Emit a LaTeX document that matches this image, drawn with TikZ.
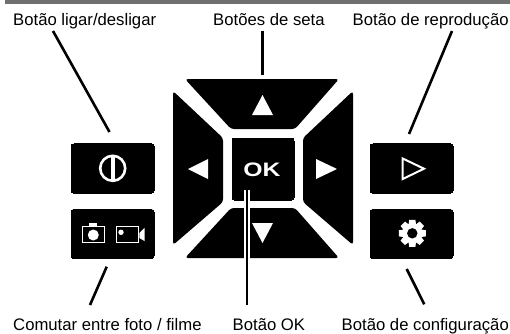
\documentclass[tikz,border=0pt]{standalone}
\usepackage{fontspec}
\setmainfont{Liberation Sans}
\tikzset{
  x=1pt,y=-1pt,
  lbl/.style={anchor=base west,inner sep=0pt,font=\fontsize{16.7}{20}\selectfont},
  btn/.style={fill=black,rounded corners=3pt},
  keybtn/.style={draw=black,fill=black,line width=0pt,rounded corners=3pt,inner sep=0pt,minimum width=83pt,minimum height=49.5pt},
  lead/.style={draw=black,line width=2.6pt},
  oklead/.style={draw=black,line width=2.2pt},
  halo/.style={draw=white,line width=6pt},
  wfill/.style={fill=white,draw=none},
  wline/.style={draw=white,fill=none},
}
\begin{document}
\begin{tikzpicture}
\useasboundingbox (0,0) rectangle (510,333);
\fill[black!56] (5,0) rectangle (510,4);
% labels
\node[lbl] (l1) at (13,25) {Botão ligar/desligar};
\node[lbl] (l2) at (213,25) {Botões de seta};
\node[lbl] (l3) at (352.5,25) {Botão de reprodução};
\node[lbl] (l4) at (13,330) {Comutar entre foto / filme};
\node[lbl] (l5) at (232.5,330) {Botão OK};
\node[lbl] (l6) at (341.5,330) {Botão de configuração};
% side buttons
\node[keybtn] (power) at (112.5,168.5) {};
\node[keybtn] (mode) at (112.5,234) {};
\node[keybtn] (play) at (411.5,168.5) {};
\node[keybtn] (gear) at (411.5,234) {};
% d-pad
\fill[btn] (185,79) -- (339,79) -- (295,129) -- (231,129) -- cycle;
\fill[btn] (185,258) -- (339,258) -- (295,208) -- (231,208) -- cycle;
\fill[btn] (173,91) -- (223,138) -- (223,202) -- (173,245) -- cycle;
\fill[btn] (353,91) -- (303,138) -- (303,202) -- (353,245) -- cycle;
\node[keybtn,minimum width=62pt,minimum height=62pt] (ok) at (263,169) {};
% arrow glyphs
\fill[wfill] (262.5,95) -- (273,115) -- (252,115) -- cycle;
\fill[wfill] (262.5,243) -- (273,223) -- (252,223) -- cycle;
\fill[wfill] (188,169) -- (208,159) -- (208,179) -- cycle;
\fill[wfill] (337,169) -- (316,159) -- (316,179) -- cycle;
\node[inner sep=0pt,text=white,font=\bfseries\fontsize{19.5}{20}\selectfont,xscale=1.27] (oktext) at (262,170) {OK};
% power icon
\draw[wline,line width=2.6pt] (112.7,168.3) circle (12.5);
\fill[wfill] (110.8,155) rectangle (114.6,181.6);
% play icon
\draw[wline,line width=2pt,line join=miter] (402.7,158.5) -- (424,168.7) -- (402.7,179) -- cycle;
% camera icon
\draw[wline,line width=1pt] (82.2,226.5) rectangle (104.5,242);
\fill[wfill] (89.3,223.3) rectangle (97.3,226.5);
\fill[wfill] (93.3,235) circle (5.5);
% video icon
\draw[wline,line width=1pt] (116.2,226.5) rectangle (138.8,242);
\fill[wfill] (121,232.3) circle (2.7);
\fill[wfill] (139.3,233) -- (144.5,228) -- (144.5,241) -- (139.3,238) -- cycle;
% gear icon
\fill[wfill] (412.3,233.3) circle (10);
\foreach \a in {0,45,...,315}
  \fill[wfill,rotate around={\a:(412.3,233.3)}] (409.2,219.8) -- (415.4,219.8) -- (416.2,226) -- (408.4,226) -- cycle;
\fill[black] (412.3,233.3) circle (5.2);
% connectors
\coordinate (a1) at (53,31);
\coordinate (a2) at (109.5,132);
\coordinate (b1) at (262.5,31);
\coordinate (b2) at (262.5,75);
\coordinate (c1) at (452,31);
\coordinate (c2) at (409,134);
\coordinate (d1) at (106.7,266.7);
\coordinate (d2) at (90,305);
\coordinate (e1) at (246.7,190);
\coordinate (e2) at (246.7,305);
\coordinate (e3) at (246.7,262);
\coordinate (f1) at (406.7,269);
\coordinate (f2) at (424.3,304.3);
\draw[lead] (a1) -- (a2);
\draw[lead] (b1) -- (b2);
\draw[lead] (c1) -- (c2);
\draw[lead] (d1) -- (d2);
\draw[halo] (e1) -- (e3);
\draw[oklead] (e1) -- (e2);
\draw[lead] (f1) -- (f2);
\end{tikzpicture}
\end{document}
